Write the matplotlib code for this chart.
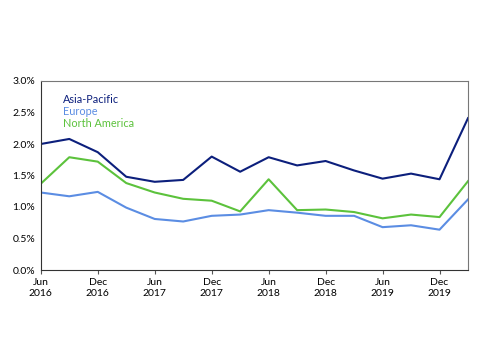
import matplotlib
matplotlib.use("Agg")

import matplotlib.pyplot as plt
from matplotlib.ticker import FuncFormatter

plt.rcParams["font.family"] = ["Lato", "DejaVu Sans"]

quarters = ["Jun 2016", "Sep 2016", "Dec 2016", "Mar 2017", "Jun 2017", "Sep 2017",
            "Dec 2017", "Mar 2018", "Jun 2018", "Sep 2018", "Dec 2018", "Mar 2019",
            "Jun 2019", "Sep 2019", "Dec 2019", "Mar 2020"]
asia_pacific = [2.00, 2.08, 1.87, 1.48, 1.40, 1.43, 1.80, 1.56, 1.79, 1.66, 1.73, 1.58,
                1.45, 1.53, 1.44, 2.41]
europe = [1.23, 1.17, 1.24, 0.99, 0.81, 0.77, 0.86, 0.88, 0.95, 0.91, 0.86, 0.86,
          0.68, 0.71, 0.64, 1.12]
north_america = [1.37, 1.79, 1.72, 1.38, 1.23, 1.13, 1.10, 0.93, 1.44, 0.95, 0.96, 0.92,
                 0.82, 0.88, 0.84, 1.41]
tick_labels = ["Jun\n2016", "Dec\n2016", "Jun\n2017", "Dec\n2017",
               "Jun\n2018", "Dec\n2018", "Jun\n2019", "Dec\n2019"]

x = list(range(len(quarters)))

fig = plt.figure(figsize=(4.8, 3.6), dpi=100)
ax = fig.add_axes([0.085, 0.25, 0.89, 0.525])

series = [("Asia-Pacific", asia_pacific, "#0c1f7c"),
          ("Europe", europe, "#5b8de3"),
          ("North America", north_america, "#5cc23c")]
for name, vals, col in series:
    ax.plot(x, vals, color=col, linewidth=1.5, label=name)

ax.set_xlim(0, len(x) - 1)
ax.set_ylim(0, 3.0)
ax.set_yticks([0, 0.5, 1.0, 1.5, 2.0, 2.5, 3.0])
ax.yaxis.set_major_formatter(FuncFormatter(lambda v, p: f"{v:.1f}%"))
ax.set_xticks(x[::2][:len(tick_labels)])
ax.set_xticklabels(tick_labels)
ax.tick_params(axis="x", length=3, width=0.8, color="#555555", labelsize=7.5, pad=3)
ax.tick_params(axis="y", length=0, labelsize=7.5, pad=4)
for s in ax.spines.values():
    s.set_color("#777777")
    s.set_linewidth(0.8)
ax.spines["bottom"].set_color("#333333")
ax.spines["left"].set_color("#333333")

leg = ax.legend(loc="upper left", bbox_to_anchor=(0.041, 0.955), frameon=False,
                handlelength=0, handletextpad=0, labelcolor="linecolor",
                fontsize=7.8, labelspacing=0.12, borderaxespad=0)
for h in leg.legend_handles:
    h.set_visible(False)

fig.savefig("out.png", dpi=100)
